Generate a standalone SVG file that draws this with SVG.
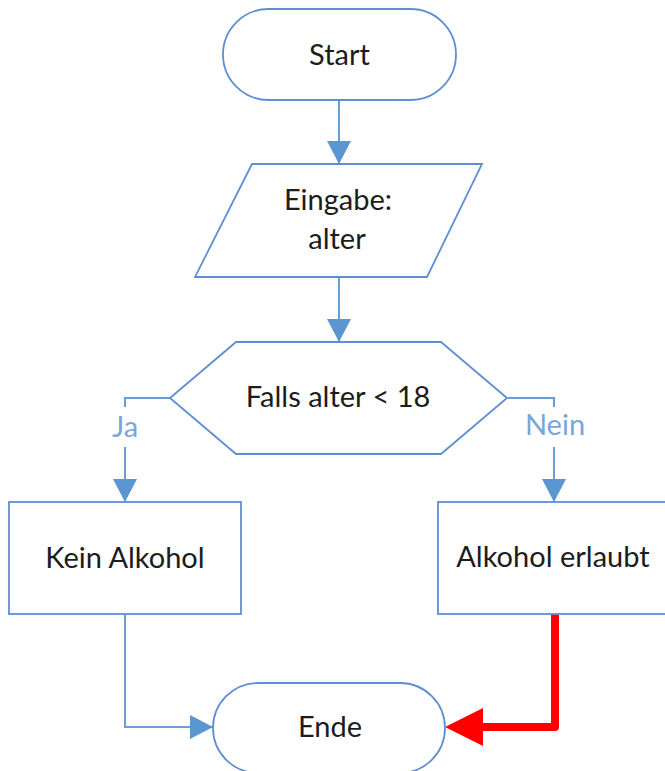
<svg xmlns="http://www.w3.org/2000/svg" width="665" height="771" viewBox="0 0 665 771">
<style>
.shape{fill:#ffffff;stroke:#5f8fd3;stroke-width:1.8}
.conn{fill:none;stroke:#6a9fd6;stroke-width:2}
.red{fill:none;stroke:#ff0000;stroke-width:8;stroke-linejoin:round;stroke-linecap:round}
.t{font-family:Lato,"Open Sans","Liberation Sans",sans-serif;font-size:29px;fill:#1c1c1c;text-anchor:middle}
.lbl{font-family:Lato,"Open Sans","Liberation Sans",sans-serif;font-size:29px;fill:#7aa6d8;text-anchor:middle}
</style>
<defs>
<marker id="ab" markerUnits="userSpaceOnUse" markerWidth="24" markerHeight="24" refX="23" refY="12" orient="auto">
<path d="M0,0 L23,12 L0,24 Z" fill="#5b96d0"/>
</marker>
</defs>
<g id="connectors">
<path class="conn" d="M339,100 V164" marker-end="url(#ab)"/>
<path class="conn" d="M339,277 V342" marker-end="url(#ab)"/>
<path class="conn" d="M170,398 H125 V407"/>
<path class="conn" d="M125,447 V502" marker-end="url(#ab)"/>
<text class="lbl" x="125" y="437">Ja</text>
<path class="conn" d="M508,398 H554 V407"/>
<path class="conn" d="M554,447 V502" marker-end="url(#ab)"/>
<text class="lbl" x="555" y="435">Nein</text>
<path class="conn" d="M125,614 V727 H213" marker-end="url(#ab)"/>
<path class="red" d="M555,614 V727 H480"/>
<path d="M483,708 L445,727 L483,746 Z" fill="#ff0000"/>
</g>
<g id="start">
<rect class="shape" x="223" y="9" width="233" height="91" rx="45.5"/>
<text class="t" x="339.5" y="65">Start</text>
</g>
<g id="eingabe">
<polygon class="shape" points="252,164 482,164 427,277 195,277"/>
<text class="t" x="338" y="210">Eingabe:</text>
<text class="t" x="337" y="249">alter</text>
</g>
<g id="falls">
<polygon class="shape" points="236,342 441,342 507,398 441,454 236,454 170,398"/>
<text class="t" x="338" y="407">Falls alter &lt; 18</text>
</g>
<g id="kein">
<rect class="shape" x="9" y="502" width="232" height="112"/>
<text class="t" x="125" y="568">Kein Alkohol</text>
</g>
<g id="erlaubt">
<rect class="shape" x="438" y="502" width="240" height="112"/>
<text class="t" x="553" y="567">Alkohol erlaubt</text>
</g>
<g id="ende">
<rect class="shape" x="213" y="683" width="232" height="90" rx="45"/>
<text class="t" x="330" y="737">Ende</text>
</g>
</svg>
